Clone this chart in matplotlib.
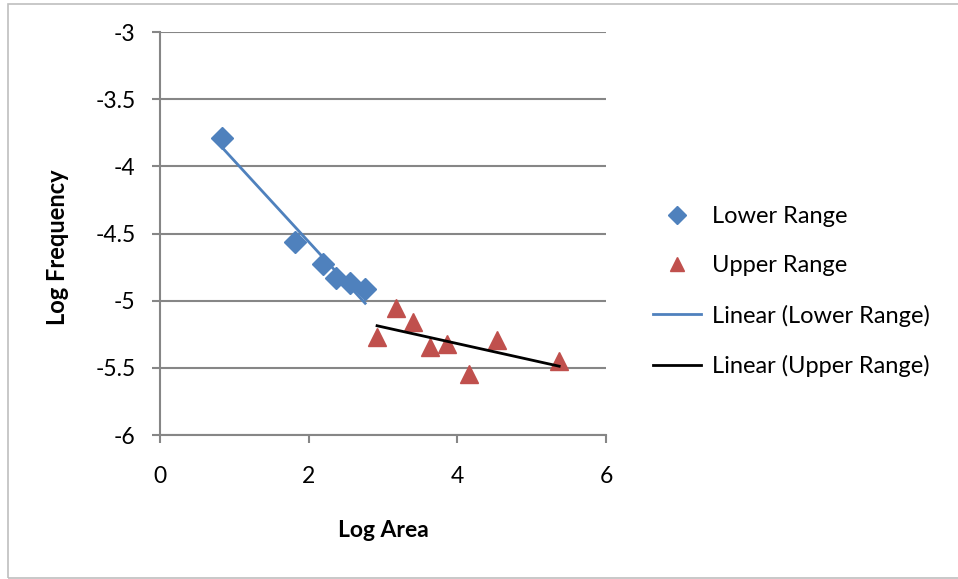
import matplotlib.pyplot as plt
import numpy as np
from matplotlib.patches import Rectangle

plt.rcParams['font.family'] = ['Lato', 'DejaVu Sans']

# Lower range points (log area, log frequency)
lower_x = [0.84, 1.82, 2.19, 2.37, 2.56, 2.76]
lower_y = [-3.787, -4.561, -4.727, -4.834, -4.871, -4.914]

# Upper range points
upper_x = [2.92, 3.17, 3.41, 3.63, 3.86, 4.16, 4.54, 5.37]
upper_y = [-5.269, -5.053, -5.162, -5.348, -5.321, -5.544, -5.291, -5.452]

blue = '#4F81BD'
red = '#C0504D'
grid_col = '#868686'
fs = 16.5

fig = plt.figure(figsize=(9.58, 5.79), dpi=100)
ax = fig.add_axes([0.167, 0.2487, 0.4656, 0.696])

# chart area border
fig.patches.append(Rectangle((8 / 958, 1 / 579), 1.0, 574 / 579, transform=fig.transFigure,
                             fill=False, edgecolor='#BFBFBF', linewidth=1.2, zorder=0))

ax.plot(lower_x, lower_y, linestyle='none', marker='D', ms=11, color=blue,
        label='Lower Range', zorder=3)
ax.plot(upper_x, upper_y, linestyle='none', marker='^', ms=13, color=red,
        label='Upper Range', zorder=3)

# linear trendlines
p1 = np.polyfit(lower_x, lower_y, 1)
x1 = np.array([min(lower_x), max(lower_x)])
ax.plot(x1, np.polyval(p1, x1), color=blue, lw=2, label='Linear (Lower Range)', zorder=4)

p2 = np.polyfit(upper_x, upper_y, 1)
x2 = np.array([min(upper_x), max(upper_x)])
ax.plot(x2, np.polyval(p2, x2), color='black', lw=2, label='Linear (Upper Range)', zorder=4)

ax.set_xlim(0, 6)
ax.set_ylim(-6, -3)
ax.set_xticks([0, 2, 4, 6])
ax.set_yticks([-6, -5.5, -5, -4.5, -4, -3.5, -3])
ax.set_yticklabels(['-6', '-5.5', '-5', '-4.5', '-4', '-3.5', '-3'])
ax.yaxis.grid(True, color=grid_col, lw=1.5)
ax.set_axisbelow(True)

for s in ['top', 'right']:
    ax.spines[s].set_visible(False)
for s in ['left', 'bottom']:
    ax.spines[s].set_color(grid_col)
    ax.spines[s].set_linewidth(1.5)

ax.tick_params(axis='both', colors=grid_col, labelcolor='black', labelsize=fs,
               length=5.5, width=1.5, direction='out')
ax.tick_params(axis='x', pad=17)
ax.tick_params(axis='y', pad=12)

ax.set_xlabel('Log Area', fontsize=fs, fontweight='bold')
ax.set_ylabel('Log Frequency', fontsize=fs + 0.5, fontweight='bold')
ax.xaxis.set_label_coords(0.5, -0.21)
ax.yaxis.set_label_coords(-0.205, 0.465)

ax.legend(loc='center left', bbox_to_anchor=(653 / 958, 1 - 291.5 / 579),
          bbox_transform=fig.transFigure, frameon=False, fontsize=17,
          handlelength=2.05, labelspacing=1.2, handletextpad=0.45, markerscale=0.8,
          borderpad=0, borderaxespad=0)

fig.savefig('out.png', dpi=100)
